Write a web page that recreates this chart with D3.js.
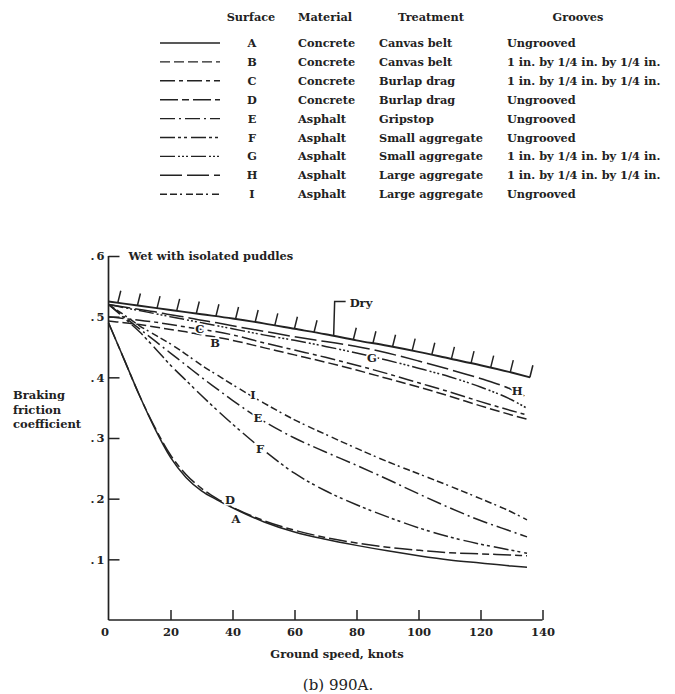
<!DOCTYPE html>
<html>
<head>
<meta charset="utf-8">
<script src="https://cdn.jsdelivr.net/npm/d3@7"></script>
<style>
  html, body { margin: 0; padding: 0; background: #fff; }
  svg { display: block; }
  text { font-family: "DejaVu Serif", "Liberation Serif", serif; fill: #222; }
</style>
</head>
<body>
<svg id="chart" width="675" height="694"></svg>
<script>
// ---- Data: braking friction coefficient vs ground speed (knots), 990A ----
const speeds = [0, 5, 10, 15, 20, 25, 30, 35, 40, 50, 60, 70, 80, 90, 100, 110, 120, 130, 135];

const surfaceA = [0.490, 0.430, 0.370, 0.315, 0.268, 0.235, 0.213, 0.198, 0.185, 0.162, 0.145, 0.133, 0.123, 0.114, 0.106, 0.099, 0.094, 0.089, 0.087];
const surfaceB = [0.493, 0.490, 0.487, 0.483, 0.479, 0.475, 0.470, 0.466, 0.461, 0.449, 0.437, 0.425, 0.412, 0.398, 0.384, 0.369, 0.353, 0.338, 0.331];
const surfaceC = [0.500, 0.497, 0.494, 0.491, 0.487, 0.483, 0.479, 0.475, 0.470, 0.457, 0.445, 0.433, 0.420, 0.406, 0.391, 0.376, 0.360, 0.345, 0.338];
const surfaceD = [0.490, 0.430, 0.370, 0.317, 0.272, 0.240, 0.217, 0.200, 0.186, 0.164, 0.148, 0.136, 0.127, 0.120, 0.115, 0.111, 0.109, 0.107, 0.106];
const surfaceE = [0.520, 0.500, 0.480, 0.460, 0.440, 0.420, 0.400, 0.381, 0.362, 0.328, 0.300, 0.277, 0.255, 0.232, 0.208, 0.185, 0.164, 0.146, 0.137];
const surfaceF = [0.520, 0.498, 0.475, 0.448, 0.420, 0.395, 0.370, 0.346, 0.323, 0.280, 0.242, 0.213, 0.190, 0.170, 0.152, 0.137, 0.125, 0.115, 0.110];
const surfaceG = [0.520, 0.515, 0.510, 0.505, 0.500, 0.495, 0.490, 0.485, 0.480, 0.470, 0.461, 0.451, 0.440, 0.428, 0.415, 0.401, 0.384, 0.363, 0.349];
const surfaceH = [0.520, 0.516, 0.512, 0.508, 0.503, 0.499, 0.494, 0.490, 0.485, 0.476, 0.467, 0.459, 0.451, 0.440, 0.427, 0.413, 0.398, 0.380, 0.367];
const surfaceI = [0.520, 0.503, 0.485, 0.470, 0.455, 0.438, 0.420, 0.404, 0.388, 0.358, 0.330, 0.306, 0.283, 0.261, 0.241, 0.221, 0.200, 0.178, 0.165];

// Dry-surface reference line
const drySpeeds = [0, 10, 20, 30, 40, 50, 60, 70, 80, 90, 100, 110, 120, 130, 136];
const dryValues = [0.525, 0.518, 0.511, 0.504, 0.497, 0.489, 0.480, 0.471, 0.461, 0.452, 0.442, 0.431, 0.420, 0.408, 0.400];

// Legend table columns
const surfaceIds = ["A", "B", "C", "D", "E", "F", "G", "H", "I"];
const materials = ["Concrete", "Concrete", "Concrete", "Concrete", "Asphalt", "Asphalt", "Asphalt", "Asphalt", "Asphalt"];
const treatments = ["Canvas belt", "Canvas belt", "Burlap drag", "Burlap drag", "Gripstop", "Small aggregate", "Small aggregate", "Large aggregate", "Large aggregate"];
const grooves = ["Ungrooved", "1 in. by 1/4 in. by 1/4 in.", "1 in. by 1/4 in. by 1/4 in.", "Ungrooved", "Ungrooved", "Ungrooved", "1 in. by 1/4 in. by 1/4 in.", "1 in. by 1/4 in. by 1/4 in.", "Ungrooved"];

// Curve label anchors (knots, coefficient)
const labelSpeeds = [41.1, 34.4, 29.5, 39.2, 48.2, 48.9, 85, 131.8, 46.6];
const labelValues = [0.168, 0.458, 0.481, 0.199, 0.333, 0.283, 0.433, 0.379, 0.371];

// Axis ticks
const xTicks = [0, 20, 40, 60, 80, 100, 120, 140];
const yTicks = [0.1, 0.2, 0.3, 0.4, 0.5, 0.6];
const yTickLabels = [".1", ".2", ".3", ".4", ".5", ".6"];

// ---- Styles ----
const ink = "#222";
const dashPatterns = {
  A: null,
  B: "10,4",
  C: "15,4,4,4",
  D: "18,4,7,4",
  E: "15,4,2,4",
  F: "15,3,3,3,3,4",
  G: "15,3,2,2,2,2,2,3",
  H: "22,5",
  I: "7,3,7,3,2,4"
};
const seriesValues = [surfaceA, surfaceB, surfaceC, surfaceD, surfaceE, surfaceF, surfaceG, surfaceH, surfaceI];

const svg = d3.select("#chart");

const x = d3.scaleLinear().domain([0, 140]).range([108.5, 542.5]);
const y = d3.scaleLinear().domain([0, 0.6]).range([620, 256]);

// ---- Legend table ----
const legend = svg.append("g").attr("font-weight", "bold").attr("font-size", 11.3);
const rowY0 = 47, rowStep = 18.9;
legend.append("text").attr("x", 251).attr("y", 21).attr("text-anchor", "middle").text("Surface");
legend.append("text").attr("x", 298).attr("y", 21).text("Material");
legend.append("text").attr("x", 431).attr("y", 21).attr("text-anchor", "middle").text("Treatment");
legend.append("text").attr("x", 578).attr("y", 21).attr("text-anchor", "middle").text("Grooves");

surfaceIds.forEach((id, i) => {
  const ry = rowY0 + i * rowStep;
  legend.append("line")
    .attr("x1", 160).attr("x2", 220)
    .attr("y1", ry - 4).attr("y2", ry - 4)
    .attr("stroke", ink).attr("stroke-width", 1.4)
    .attr("stroke-dasharray", dashPatterns[id]);
  legend.append("text").attr("x", 252).attr("y", ry).attr("text-anchor", "middle").text(id);
  legend.append("text").attr("x", 298).attr("y", ry).text(materials[i]);
  legend.append("text").attr("x", 379).attr("y", ry).text(treatments[i]);
  legend.append("text").attr("x", 507).attr("y", ry).text(grooves[i]);
});

// ---- Axes ----
const axes = svg.append("g").attr("stroke", ink).attr("stroke-width", 1.7).attr("fill", "none");
axes.append("line").attr("x1", x(0)).attr("x2", x(0)).attr("y1", y(0)).attr("y2", y(0.6));
axes.append("line").attr("x1", x(0)).attr("x2", x(140)).attr("y1", y(0)).attr("y2", y(0));

const xAxis = d3.axisBottom(x).tickValues(xTicks).tickSize(-10).tickPadding(8).tickFormat(d3.format("d"));
const gx = svg.append("g").attr("transform", `translate(0,${y(0)})`).call(xAxis);
gx.select(".domain").remove();
gx.selectAll(".tick line").attr("stroke", ink).attr("stroke-width", 1.5)
  .filter(d => d === 0).remove();
gx.selectAll(".tick text").attr("font-family", "DejaVu Serif").attr("font-weight", "bold")
  .attr("font-size", 11.5).attr("fill", ink)
  .attr("transform", d => d === 0 ? "translate(-4,0)" : null);

const yAxis = d3.axisLeft(y).tickValues(yTicks).tickSize(-11).tickPadding(2)
  .tickFormat((d, i) => yTickLabels[i]);
const gy = svg.append("g").attr("transform", `translate(${x(0)},0)`).call(yAxis);
gy.select(".domain").remove();
gy.selectAll(".tick line").attr("stroke", ink).attr("stroke-width", 1.5);
gy.selectAll(".tick text").attr("font-family", "DejaVu Serif").attr("font-weight", "bold")
  .attr("font-size", 11.5).attr("fill", ink).attr("letter-spacing", "2px");

// ---- Curves ----
const line = d3.line().x(d => x(d[0])).y(d => y(d[1])).curve(d3.curveMonotoneX);
const curves = svg.append("g").attr("fill", "none").attr("stroke", ink).attr("stroke-width", 1.5);
surfaceIds.forEach((id, i) => {
  curves.append("path")
    .datum(speeds.map((s, j) => [s, seriesValues[i][j]]))
    .attr("d", line)
    .attr("stroke-dasharray", dashPatterns[id]);
});

// Dry line with hatch marks
const dryPts = drySpeeds.map((s, j) => [s, dryValues[j]]);
curves.append("path").datum(dryPts).attr("d", line).attr("stroke-width", 1.9);
const dryAt = d3.scaleLinear().domain(drySpeeds).range(dryValues);
const hatchSpeeds = d3.range(22).map(k => 3 + k * 6.33);
const leaderIndex = 11;
hatchSpeeds.forEach((s, k) => {
  const px = x(Math.min(s, 136)), py = y(dryAt(Math.min(s, 136)));
  if (k === leaderIndex) {
    const top = y(0.525);
    curves.append("path")
      .attr("d", `M${px},${py}L${px + 1},${top}L${px + 12},${top}`)
      .attr("stroke-width", 1.5);
    svg.append("text").attr("x", px + 16).attr("y", top + 5)
      .attr("font-weight", "bold").attr("font-size", 11.5).text("Dry");
  } else {
    curves.append("line")
      .attr("x1", px).attr("y1", py)
      .attr("x2", px + 3).attr("y2", py - 12)
      .attr("stroke-width", 1.5);
  }
});

// Curve letter labels
surfaceIds.forEach((id, i) => {
  svg.append("text")
    .attr("x", x(labelSpeeds[i])).attr("y", y(labelValues[i]) + 4.5)
    .attr("text-anchor", "middle")
    .attr("font-weight", "bold").attr("font-size", 11.5)
    .attr("stroke", "#fff").attr("stroke-width", 3).attr("paint-order", "stroke")
    .text(id);
});

// Condition note at top of axis
svg.append("text").attr("x", x(0) + 20).attr("y", y(0.6) + 4)
  .attr("font-weight", "bold").attr("font-size", 11.4).text("Wet with isolated puddles");

// Axis titles
const yTitle = svg.append("text").attr("font-weight", "bold").attr("font-size", 11.5);
["Braking", "friction", "coefficient"].forEach((w, i) => {
  yTitle.append("tspan").attr("x", 13).attr("y", 399 + i * 14.5).text(w);
});
svg.append("text").attr("x", 337).attr("y", 658).attr("text-anchor", "middle")
  .attr("font-weight", "bold").attr("font-size", 11.5).text("Ground speed, knots");
svg.append("text").attr("x", 338).attr("y", 690).attr("text-anchor", "middle")
  .attr("font-size", 15).text("(b) 990A.");
</script>
</body>
</html>
